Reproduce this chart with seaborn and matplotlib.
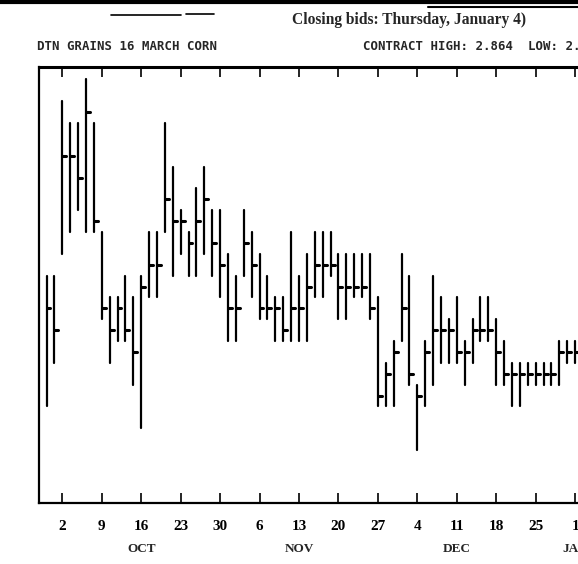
import numpy as np
import pandas as pd
import matplotlib
matplotlib.use("Agg")
import matplotlib.pyplot as plt
import matplotlib.transforms as mtransforms
from matplotlib.lines import Line2D
import seaborn as sns

# ---------------- data (price in $/bu, one bar per trading day) ----------------
days = pd.bdate_range("1989-09-28", "1990-01-01")

highs = [2.5075, 2.5075, 2.5475, 2.5425, 2.5425, 2.5525, 2.5425, 2.5175, 2.5025, 2.5025,
         2.5075, 2.5025, 2.5075, 2.5175, 2.5175, 2.5425, 2.5325, 2.5225, 2.5175, 2.5275,
         2.5325, 2.5225, 2.5225, 2.5125, 2.5075, 2.5225, 2.5175, 2.5125, 2.5075, 2.5025,
         2.5025, 2.5175, 2.5075, 2.5125, 2.5175, 2.5175, 2.5175, 2.5125, 2.5125, 2.5125,
         2.5125, 2.5125, 2.5025, 2.4875, 2.4925, 2.5125, 2.5075, 2.4825, 2.4925, 2.5075,
         2.5025, 2.4975, 2.5025, 2.4925, 2.4975, 2.5025, 2.5025, 2.4975, 2.4925, 2.4875,
         2.4875, 2.4875, 2.4875, 2.4875, 2.4875, 2.4925, 2.4925, 2.4925]

lows = [2.4775, 2.4875, 2.5125, 2.5175, 2.5225, 2.5175, 2.5175, 2.4975, 2.4875, 2.4925,
        2.4925, 2.4825, 2.4725, 2.5025, 2.5025, 2.5175, 2.5075, 2.5125, 2.5075, 2.5075,
        2.5125, 2.5075, 2.5025, 2.4925, 2.4925, 2.5075, 2.5025, 2.4975, 2.4975, 2.4925,
        2.4925, 2.4925, 2.4925, 2.4925, 2.5025, 2.5025, 2.5075, 2.4975, 2.4975, 2.5025,
        2.5025, 2.4975, 2.4775, 2.4775, 2.4775, 2.4925, 2.4825, 2.4675, 2.4775, 2.4825,
        2.4875, 2.4875, 2.4875, 2.4825, 2.4875, 2.4925, 2.4925, 2.4825, 2.4825, 2.4775,
        2.4775, 2.4825, 2.4825, 2.4825, 2.4825, 2.4825, 2.4875, 2.4875]

closes = [2.5000, 2.4950, 2.5350, 2.5350, 2.5300, 2.5450, 2.5200, 2.5000, 2.4950, 2.5000,
          2.4950, 2.4900, 2.5050, 2.5100, 2.5100, 2.5250, 2.5200, 2.5200, 2.5150, 2.5200,
          2.5250, 2.5150, 2.5100, 2.5000, 2.5000, 2.5150, 2.5100, 2.5000, 2.5000, 2.5000,
          2.4950, 2.5000, 2.5000, 2.5050, 2.5100, 2.5100, 2.5100, 2.5050, 2.5050, 2.5050,
          2.5050, 2.5000, 2.4800, 2.4850, 2.4900, 2.5000, 2.4850, 2.4800, 2.4900, 2.4950,
          2.4950, 2.4950, 2.4900, 2.4900, 2.4950, 2.4950, 2.4950, 2.4900, 2.4850, 2.4850,
          2.4850, 2.4850, 2.4850, 2.4850, 2.4850, 2.4900, 2.4900, 2.4900]

week_labels = ["2", "9", "16", "23", "30", "6", "13", "20", "27", "4", "11", "18", "25", "1"]
month_labels = ["OCT", "NOV", "DEC", "JAN"]
month_anchor_dates = ["1989-10-16", "1989-11-13", "1989-12-11", "1990-01-01"]

header_text = "Closing bids: Thursday, January 4)"
left_title = "DTN GRAINS 16 MARCH CORN"
right_title = "CONTRACT HIGH: 2.864  LOW: 2.464"

# ---------------- tables ----------------
df = pd.DataFrame({"date": days, "high": highs, "low": lows, "close": closes})
origin = int(np.where(df["date"] == pd.Timestamp("1989-10-02"))[0][0])
df["slot"] = np.arange(len(df)) - origin

hl = pd.concat([df[["slot"]].assign(price=df["high"]),
                df[["slot"]].assign(price=df["low"])], ignore_index=True)
cl = pd.concat([df[["slot"]].assign(x=df["slot"], price=df["close"]),
                df[["slot"]].assign(x=df["slot"] + 0.5, price=df["close"])],
               ignore_index=True)

# ---------------- figure ----------------
sns.set_theme(style="white")
plt.rcParams["font.family"] = ["Liberation Serif", "DejaVu Serif"]
mono = ["DejaVu Sans Mono", "Liberation Mono"]

W, H = 578, 564
fig = plt.figure(figsize=(W / 100, H / 100), dpi=100)
px_day = 7.89
left_px, top_px, bot_px = 39.3, 67.3, 503.3
x0 = -(62.3 - left_px) / px_day
axw_px = 575.3
ax = fig.add_axes([left_px / W, (H - bot_px) / H, axw_px / W, (bot_px - top_px) / H])

sns.lineplot(data=hl, x="slot", y="price", units="slot", estimator=None,
             color="black", lw=1.6, sort=False, ax=ax, legend=False)
sns.lineplot(data=cl, x="x", y="price", units="slot", estimator=None,
             color="black", lw=2.2, sort=False, ax=ax, legend=False)

ax.set_xlim(x0, x0 + axw_px / px_day)
ax.set_ylim(2.45528, 2.55528)
ax.set_xlabel("")
ax.set_ylabel("")
ax.set_yticks([])

for side, lw in [("left", 1.6), ("top", 2.2), ("bottom", 1.6), ("right", 1.6)]:
    ax.spines[side].set_color("black")
    ax.spines[side].set_linewidth(lw)

mondays = df.loc[df["date"].dt.weekday == 0, "slot"].to_numpy()
ax.set_xticks(mondays)
ax.set_xticklabels(week_labels, fontsize=11, fontweight="bold")
ax.tick_params(axis="x", which="both", direction="in", length=7.5, width=1.2,
               top=True, bottom=True, labeltop=False, pad=12, colors="black")

trans = mtransforms.blended_transform_factory(ax.transData, ax.transAxes)
slot_of = dict(zip(df["date"], df["slot"]))
for lab, d in zip(month_labels, month_anchor_dates):
    ax.text(slot_of[pd.Timestamp(d)], -(549 - bot_px) / (bot_px - top_px), lab,
            transform=trans, ha="center", va="center", fontsize=9.5, fontweight="bold")

fig.text(291.5 / W, 1 - 20.5 / H, header_text, ha="left", va="center",
         fontsize=11.2, fontweight="bold")
fig.text(37 / W, 1 - 47 / H, left_title, ha="left", va="center",
         fontsize=8.9, fontweight="bold", family=mono)
fig.text(363 / W, 1 - 47 / H, right_title, ha="left", va="center",
         fontsize=8.9, fontweight="bold", family=mono)

# scan artefacts along the top edge
for xs, y, lw in [((0, W), 1.5, 3.0), ((111, 181), 14.8, 1.2), ((186, 214), 14.3, 1.2),
                  ((428, 578), 6.5, 1.5)]:
    fig.add_artist(Line2D([xs[0] / W, xs[1] / W], [1 - y / H, 1 - y / H],
                          transform=fig.transFigure, color="black", lw=lw))

fig.savefig("out.png", dpi=100)
